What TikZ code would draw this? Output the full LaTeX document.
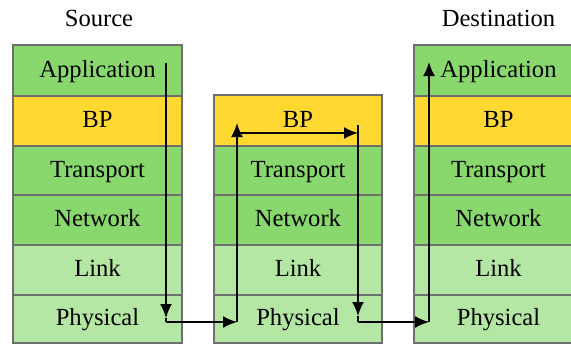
\documentclass[tikz,border=0pt]{standalone}
\usepackage{fontspec}
\setmainfont{Liberation Serif}
\usetikzlibrary{arrows.meta}
\definecolor{appg}{HTML}{88D86E}
\definecolor{lowg}{HTML}{B4E6A4}
\definecolor{bpy}{HTML}{FFD932}
\definecolor{edge}{HTML}{6E6E6E}
\tikzset{
  cell/.style={draw=edge, line width=1.3pt, rectangle, inner sep=0pt,
    font=\fontsize{24.6}{28}\selectfont, text height=18pt, text depth=4.2pt},
  lbl/.style={font=\fontsize{24.6}{28}\selectfont, text height=18pt, text depth=4.2pt, inner sep=0pt},
  flow/.style={line width=1.8pt, -{Latex[length=14pt,width=12pt]}},
  seg/.style={line width=1.8pt}
}
\begin{document}
\begin{tikzpicture}[x=1pt,y=-1pt]
\clip (0,0) rectangle (571,346);
\fill[white] (0,0) rectangle (571,346);
% Source stack
\node[cell, fill=appg, minimum width=169pt, minimum height=51pt] (sApp) at (97.5,70.5) {Application};
\node[cell, fill=bpy,  minimum width=169pt, minimum height=50pt] (sBP)  at (97.5,121) {BP};
\node[cell, fill=appg, minimum width=169pt, minimum height=49pt] (sTr)  at (97.5,170.5) {Transport};
\node[cell, fill=appg, minimum width=169pt, minimum height=50pt] (sNw)  at (97.5,220) {Network};
\node[cell, fill=lowg, minimum width=169pt, minimum height=50pt] (sLk)  at (97.5,270) {Link};
\node[cell, fill=lowg, minimum width=169pt, minimum height=48pt] (sPh)  at (97.5,319) {Physical};
% Middle stack
\node[cell, fill=bpy,  minimum width=168pt, minimum height=51pt] (mBP)  at (298,120.5) {BP};
\node[cell, fill=appg, minimum width=168pt, minimum height=49pt] (mTr)  at (298,170.5) {Transport};
\node[cell, fill=appg, minimum width=168pt, minimum height=50pt] (mNw)  at (298,220) {Network};
\node[cell, fill=lowg, minimum width=168pt, minimum height=50pt] (mLk)  at (298,270) {Link};
\node[cell, fill=lowg, minimum width=168pt, minimum height=48pt] (mPh)  at (298,319) {Physical};
% Destination stack
\node[cell, fill=appg, minimum width=169pt, minimum height=51pt] (dApp) at (498.5,70.5) {Application};
\node[cell, fill=bpy,  minimum width=169pt, minimum height=50pt] (dBP)  at (498.5,121) {BP};
\node[cell, fill=appg, minimum width=169pt, minimum height=49pt] (dTr)  at (498.5,170.5) {Transport};
\node[cell, fill=appg, minimum width=169pt, minimum height=50pt] (dNw)  at (498.5,220) {Network};
\node[cell, fill=lowg, minimum width=169pt, minimum height=50pt] (dLk)  at (498.5,270) {Link};
\node[cell, fill=lowg, minimum width=169pt, minimum height=48pt] (dPh)  at (498.5,319) {Physical};
% Titles
\node[lbl] (tSrc) at (99,19.5) {Source};
\node[lbl] (tDst) at (498.5,19.5) {Destination};
% Flow coordinates
\coordinate (a1) at (166,63);
\coordinate (a2) at (166,318);
\coordinate (a2c) at (166,322);
\coordinate (a3) at (237,322);
\coordinate (a4) at (237,123);
\coordinate (b1) at (237,133);
\coordinate (b2) at (358,133);
\coordinate (c1) at (358,125);
\coordinate (c2) at (358,316);
\coordinate (c2c) at (358,322);
\coordinate (c3) at (429,322);
\coordinate (c4) at (429,62);
% Flow arrows
\draw[flow] (a1) -- (a2);
\draw[seg] (a2) -- (a2c);
\draw[flow] (a2c) -- (a3);
\draw[flow] (a3) -- (a4);
\draw[flow] (b1) -- (b2);
\draw[flow] (c1) -- (c2);
\draw[seg] (c2) -- (c2c);
\draw[flow] (c2c) -- (c3);
\draw[flow] (c3) -- (c4);
\end{tikzpicture}
\end{document}
